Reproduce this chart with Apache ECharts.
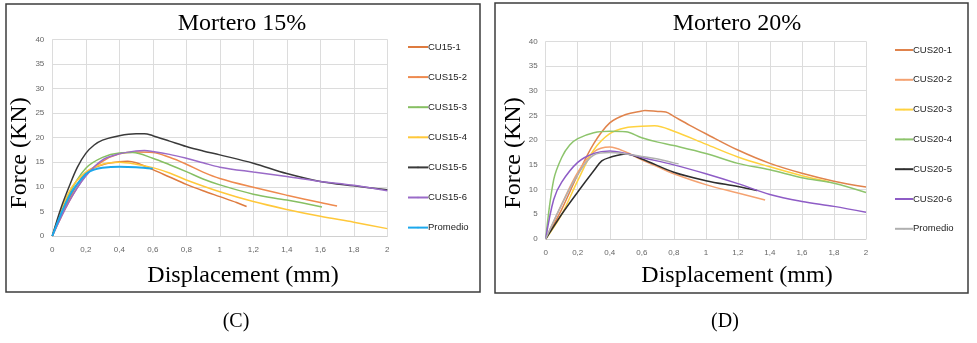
<!DOCTYPE html>
<html>
<head>
<meta charset="utf-8">
<script src="https://cdn.jsdelivr.net/npm/echarts@6/dist/echarts.min.js"></script>
<style>html,body{margin:0;padding:0;background:#fff}#c{width:977px;height:343px}</style>
</head>
<body>
<div id="c"></div>
<script>
// ---- Panel C: Mortero 15% ----
const namesC = ['CU15-1','CUS15-2','CUS15-3','CUS15-4','CUS15-5','CUS15-6','Promedio'];
const CU15_1 = [[0,0],[0.1,7.5],[0.2,12.8],[0.3,14.5],[0.4,15.1],[0.45,15.2],[0.5,14.9],[0.6,13.5],[0.7,12.0],[0.8,10.5],[0.9,9.2],[1.0,8.0],[1.1,6.8],[1.16,6.0]];
const CUS15_2 = [[0,0],[0.1,7],[0.2,12.3],[0.3,15.2],[0.4,16.7],[0.5,17.1],[0.6,17.0],[0.7,16.0],[0.8,14.6],[0.9,13.0],[1.0,11.7],[1.2,9.9],[1.4,8.3],[1.6,6.8],[1.7,6.1]];
const CUS15_3 = [[0,0],[0.1,8.5],[0.2,13.8],[0.3,16.0],[0.4,16.9],[0.48,17.0],[0.6,15.8],[0.7,14.5],[0.8,13.1],[0.9,11.6],[1.0,10.4],[1.2,8.5],[1.4,7.3],[1.61,5.9]];
const CUS15_4 = [[0,0],[0.1,9],[0.2,13.0],[0.3,14.6],[0.4,15.0],[0.5,14.6],[0.6,13.9],[0.7,12.8],[0.8,11.4],[1.0,9.0],[1.2,7.0],[1.4,5.4],[1.6,4.0],[1.8,2.8],[2.0,1.5]];
const CUS15_5 = [[0,0],[0.05,5.5],[0.1,10],[0.15,14],[0.2,16.8],[0.25,18.5],[0.3,19.5],[0.4,20.4],[0.5,20.8],[0.55,20.8],[0.6,20.4],[0.7,19.3],[0.8,18.2],[0.9,17.3],[1.0,16.5],[1.2,14.8],[1.4,12.7],[1.6,11.1],[1.8,10.2],[2.0,9.4]];
const CUS15_6 = [[0,0],[0.1,7],[0.2,12.2],[0.3,15.5],[0.4,16.7],[0.5,17.3],[0.55,17.4],[0.6,17.2],[0.7,16.6],[0.8,15.8],[0.9,14.9],[1.0,14.0],[1.2,13.0],[1.4,12.1],[1.6,11.1],[1.8,10.3],[2.0,9.2]];
const PROM15 = [[0,0],[0.1,8],[0.2,12.6],[0.25,13.5],[0.3,13.9],[0.4,14.1],[0.5,14.0],[0.6,13.7]];
// ---- Panel D: Mortero 20% ----
const namesD = ['CUS20-1','CUS20-2','CUS20-3','CUS20-4','CUS20-5','CUS20-6','Promedio'];
const CUS20_1 = [[0,0],[0.1,6],[0.2,13],[0.3,19.3],[0.4,23.5],[0.5,25.2],[0.6,25.9],[0.62,26.0],[0.7,25.8],[0.75,25.7],[0.8,24.8],[0.9,23.0],[1.0,21.3],[1.2,18.0],[1.4,15.3],[1.6,13.3],[1.8,11.7],[2.0,10.5]];
const CUS20_2 = [[0,0],[0.1,7],[0.2,13.5],[0.3,17.6],[0.4,18.6],[0.5,17.6],[0.6,16.0],[0.7,14.6],[0.8,13.2],[1.0,11.0],[1.2,9.3],[1.37,7.9]];
const CUS20_3 = [[0,0],[0.1,5],[0.2,11.8],[0.3,18.0],[0.4,21.3],[0.5,22.5],[0.6,22.8],[0.68,22.9],[0.8,21.8],[1.0,19.2],[1.2,16.6],[1.4,14.6],[1.6,12.8],[1.77,11.6]];
const CUS20_4 = [[0,0],[0.05,12],[0.1,16.5],[0.15,19],[0.2,20.3],[0.3,21.5],[0.4,21.8],[0.5,21.7],[0.6,20.5],[0.7,19.6],[0.8,18.9],[1.0,17.3],[1.2,15.3],[1.4,14.0],[1.6,12.4],[1.8,11.3],[2.0,9.4]];
const CUS20_5 = [[0,0],[0.1,5],[0.2,9.5],[0.3,13.8],[0.35,15.8],[0.4,16.5],[0.5,17.2],[0.6,16.2],[0.8,13.5],[1.0,11.8],[1.2,10.6],[1.32,9.8]];
const CUS20_6 = [[0,0],[0.05,8],[0.1,11.5],[0.2,15.5],[0.3,17.3],[0.4,17.8],[0.5,17.3],[0.6,16.5],[0.8,15.0],[1.0,13.2],[1.2,11.2],[1.4,9.0],[1.6,7.6],[1.8,6.6],[2.0,5.4]];
const PROM20 = [[0,0],[0.1,7],[0.2,13],[0.3,17],[0.4,17.5],[0.5,17.2],[0.6,16.7],[0.7,16.2],[0.8,15.4],[0.83,15.2]];
const xTicks = {min:0, max:2, interval:0.2};
const yTicks = {min:0, max:40, interval:5};

const colorsC = ['#DE7B3F','#EE8A4E','#86BF62','#FFC83A','#3A3A3A','#9A6BC8','#1CA8EC'];
const colorsD = ['#E0834C','#F4A271','#FFD23F','#8DC46C','#2E2E2E','#8E5CC6','#B0B0B0'];
const dataC = [CU15_1,CUS15_2,CUS15_3,CUS15_4,CUS15_5,CUS15_6,PROM15];
const dataD = [CUS20_1,CUS20_2,CUS20_3,CUS20_4,CUS20_5,CUS20_6,PROM20];

const fmt = v => (Math.round(v*10)/10).toString().replace('.', ',');
const gridLine = {show:true, lineStyle:{color:'#dcdcdc', width:1}};
function xA(i){return {type:'value', gridIndex:i, min:xTicks.min, max:xTicks.max, interval:xTicks.interval,
  axisLine:{show:true, lineStyle:{color:'#d0d0d0'}}, axisTick:{show:false}, splitLine:gridLine,
  axisLabel:{formatter:fmt, fontSize:8, color:'#666', margin:10, fontFamily:'Liberation Sans'}};}
function yA(i){return {type:'value', gridIndex:i, min:yTicks.min, max:yTicks.max, interval:yTicks.interval,
  axisLine:{show:false}, axisTick:{show:false}, splitLine:gridLine,
  axisLabel:{fontSize:8, color:'#666', margin:8, fontFamily:'Liberation Sans'}};}

const series = [];
namesC.forEach((n,k)=>series.push({name:n, type:'line', xAxisIndex:0, yAxisIndex:0, data:dataC[k], smooth:0.35, symbol:'none',
  legendIcon:'rect', lineStyle:{width:k===6?2:1.5, color:colorsC[k]}, itemStyle:{color:colorsC[k]}}));
namesD.forEach((n,k)=>series.push({name:n+' ', type:'line', xAxisIndex:1, yAxisIndex:1, data:dataD[k], smooth:0.35, symbol:'none',
  legendIcon:'rect', lineStyle:{width:1.5, color:colorsD[k]}, itemStyle:{color:colorsD[k]}}));

const serif = 'Liberation Serif';
const txt = (x,y,t,size,rot) => ({type:'text', x:x, y:y, rotation:rot||0, silent:true,
  style:{text:t, fontFamily:serif, fontSize:size, fill:'#000', align:'center', verticalAlign:'middle'}});

const legTxt = {fontSize:9.5, color:'#222', fontFamily:'Liberation Sans', padding:[0,0,0,-5]};
const option = {
  backgroundColor:'#fff',
  animation:false,
  grid:[
    {left:52.3, top:39.3, width:335, height:196.7},
    {left:545.7, top:41.3, width:320.3, height:197.7}
  ],
  xAxis:[xA(0), xA(1)],
  yAxis:[yA(0), yA(1)],
  legend:[
    {orient:'vertical', left:407, top:42, itemWidth:20, itemHeight:2, itemGap:20.1, padding:0,
     data:namesC, textStyle:legTxt},
    {orient:'vertical', left:894, top:45, itemWidth:18, itemHeight:2, itemGap:19.8, padding:0,
     data:namesD.map(n=>n+' '), textStyle:legTxt}
  ],
  graphic:[
    {type:'rect', shape:{x:6, y:4, width:474, height:288}, style:{fill:'none', stroke:'#3c3c3c', lineWidth:1.5}, silent:true},
    {type:'rect', shape:{x:495, y:3, width:473, height:290}, style:{fill:'none', stroke:'#3c3c3c', lineWidth:1.5}, silent:true},
    txt(242,24,'Mortero 15%',24),
    txt(737,24,'Mortero 20%',24),
    txt(20,153,'Force (KN)',24,Math.PI/2),
    txt(514,153,'Force (KN)',24,Math.PI/2),
    txt(243,276,'Displacement (mm)',24),
    txt(737,276,'Displacement (mm)',24),
    txt(236,322,'(C)',20),
    txt(725,322,'(D)',20)
  ],
  series:series
};
const chart = echarts.init(document.getElementById('c'), null, {renderer:'canvas'});
chart.setOption(option);
</script>
</body>
</html>
